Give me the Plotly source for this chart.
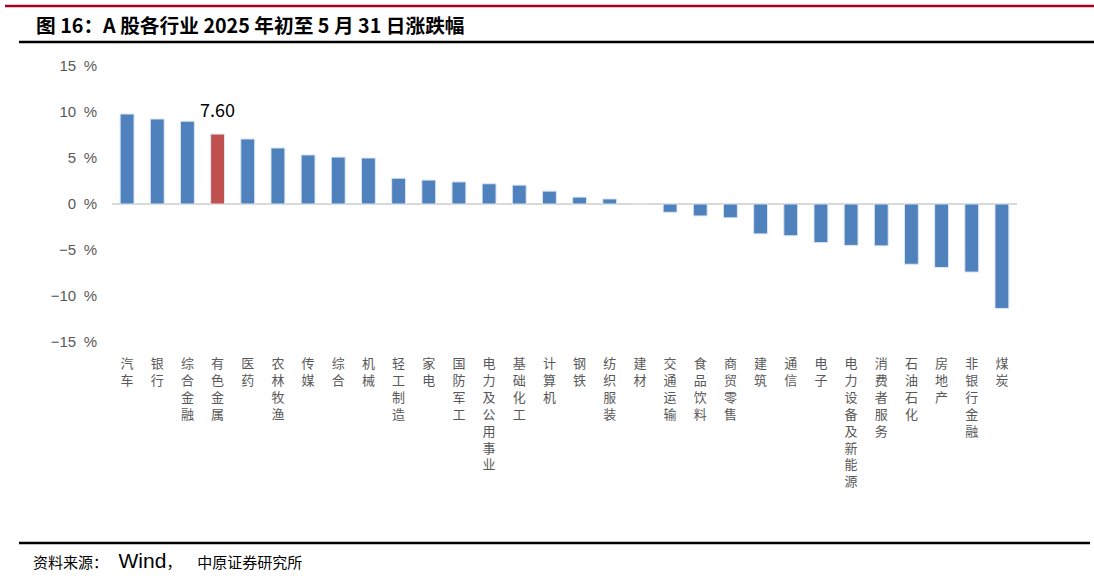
import plotly.graph_objects as go

categories = ["汽车", "银行", "综合金融", "有色金属", "医药", "农林牧渔", "传媒", "综合", "机械",
              "轻工制造", "家电", "国防军工", "电力及公用事业", "基础化工", "计算机", "钢铁", "纺织服装",
              "建材", "交通运输", "食品饮料", "商贸零售", "建筑", "通信", "电子", "电力设备及新能源",
              "消费者服务", "石油石化", "房地产", "非银行金融", "煤炭"]
values = [9.78, 9.24, 9.00, 7.60, 7.07, 6.09, 5.33, 5.10, 5.00,
          2.80, 2.60, 2.40, 2.20, 2.05, 1.40, 0.75, 0.55,
          0.05, -0.90, -1.30, -1.50, -3.25, -3.45, -4.20, -4.50,
          -4.55, -6.55, -6.90, -7.40, -11.35]
highlight = "有色金属"
ytick_vals = [15, 10, 5, 0, -5, -10, -15]
ytick_text = ["15\u2002%", "10\u2002%", "5\u2002%", "0\u2002%", "−5\u2002%", "−10\u2002%", "−15\u2002%"]

BLUE = "#4F81BD"
RED = "#C0504D"
colors = [RED if c == highlight else BLUE for c in categories]
labels = ["<br>".join(list(c)) for c in categories]

FONT = "Noto Sans CJK SC"
W, H = 1094, 576
L, R, T, B = 112, 77, 66, 234

fig = go.Figure()
fig.add_trace(go.Bar(
    x=labels, y=values,
    marker=dict(color=colors, line=dict(color="#DCE6F2", width=1)),
    width=0.46,
))

hi = categories.index(highlight)
fig.add_annotation(x=labels[hi], y=values[hi], xref="x", yref="y",
                   text=f"{values[hi]:.2f}", showarrow=False,
                   xanchor="center", yanchor="bottom", yshift=10,
                   font=dict(family="Noto Sans CJK SC", size=18, color="#000000"))

fig.update_layout(
    width=W, height=H,
    margin=dict(l=L, r=R, t=T, b=B),
    paper_bgcolor="white", plot_bgcolor="white",
    showlegend=False,
    xaxis=dict(showgrid=False, showline=False, ticks="",
               tickfont=dict(family=FONT, size=13, color="#595959"),
               tickangle=0, automargin=False, ticklabelstandoff=12),
    yaxis=dict(range=[-15, 15], tickvals=ytick_vals, ticktext=ytick_text,
               showgrid=False, zeroline=True, zerolinecolor="#D9D9D9", zerolinewidth=2,
               showline=False, ticks="", ticklabelstandoff=14,
               tickfont=dict(family="Liberation Sans", size=15, color="#595959"),
               automargin=False),
)

pw, ph = W - L - R, H - T - B

def px_x(x):
    return (x - L) / pw

def px_y(y):
    return 1 - (y - T) / ph

fig.add_annotation(text="<b>图 16：A 股各行业 2025 年初至 5 月 31 日涨跌幅</b>",
                   x=px_x(34), y=px_y(24), xref="paper", yref="paper", showarrow=False,
                   xanchor="left", yanchor="middle",
                   font=dict(family=FONT, size=19.7, color="#000000"))
fig.add_annotation(text="资料来源：\u2002\u2009<span style='font-family:Liberation Sans;font-size:21px'>Wind</span>，\u2003\u200a中原证券研究所",
                   x=px_x(31), y=px_y(560), xref="paper", yref="paper", showarrow=False,
                   xanchor="left", yanchor="middle",
                   font=dict(family=FONT, size=15, color="#000000"))

def hline(y, x0, x1, color, width):
    fig.add_shape(type="line", xref="paper", yref="paper",
                  x0=px_x(x0), x1=px_x(x1), y0=px_y(y), y1=px_y(y),
                  line=dict(color=color, width=width))

hline(6, 5, 1094, "#A50021", 2.5)
hline(42, 19, 1094, "#000000", 2.5)
hline(543, 19, 1090, "#000000", 2.5)

fig.write_html("out.html", post_script="document.body.style.margin='0';",
               config={"displayModeBar": False})
